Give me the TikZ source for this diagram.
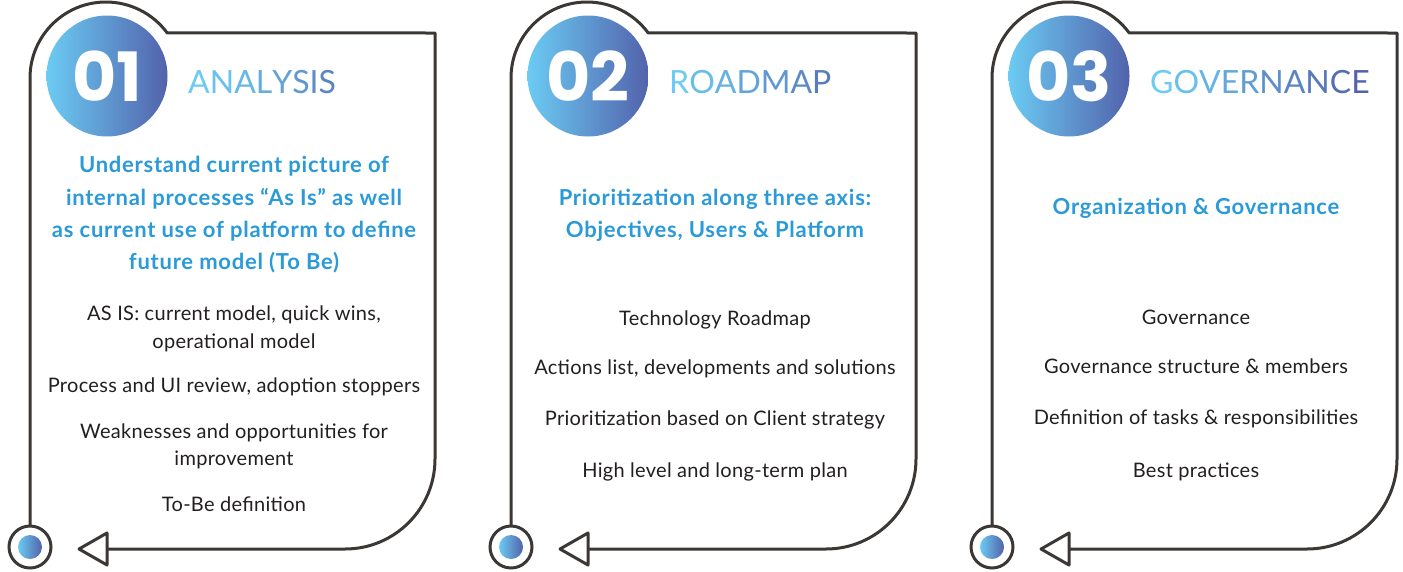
\documentclass[tikz,border=0pt]{standalone}
\usepackage{fontspec}
\setmainfont{Lato}
\newfontfamily\numfont{Poppins}
\newfontfamily\bluefont{Lato}[LetterSpace=3.4]
\newfontfamily\bodyfont{Lato}[LetterSpace=1.5]
\newfontfamily\titlefont{Lato}[LetterSpace=1]
\definecolor{outl}{HTML}{3B3735}
\definecolor{bluet}{HTML}{2A9AD8}
\definecolor{bodyt}{HTML}{231F20}
\definecolor{gA}{HTML}{6BCBF3}
\definecolor{gB}{HTML}{5262AB}
\newcommand\gl[2]{\textcolor{gB!#1!gA}{#2}}
\newcommand\cardshape[3]{%
  \draw[frame] (30,525) -- (30,78) arc[start angle=180, end angle=323.6, radius=76]
     -- (435,33) -- (435,459) arc[start angle=0, end angle=90, radius=90] -- (107,549);
  \draw[frame] (107,533) -- (79,549) -- (107,565) -- cycle;
  \node[smallring] (#1ring) at (30,547) {};
  \node[gdot] (#1dot) at (30,547) {};
  \node[bigdisc] (#1num) at (107,76) {#2};
  \node[titletext] (#1title) at (188,93) {#3};
}
\begin{document}
\begin{tikzpicture}[x=1pt,y=-1pt,
  frame/.style={draw=outl, line width=3pt, line join=round},
  smallring/.style={circle, draw=outl, line width=3pt, minimum size=42pt, inner sep=0pt, fill=white},
  gdot/.style={circle, minimum size=24pt, inner sep=0pt, left color=gA, right color=gB},
  bigdisc/.style={circle, minimum size=121pt, inner sep=0pt, left color=gA, right color=gB,
     text=white, font=\numfont\bfseries\fontsize{68}{68}\selectfont},
  titletext/.style={anchor=base west, inner sep=0pt, font=\titlefont\fontsize{32}{32}\selectfont},
  bluetxt/.style={anchor=base, inner sep=0pt, text=bluet, font=\bluefont\bfseries\fontsize{22}{26}\selectfont},
  bodytxt/.style={anchor=base, inner sep=0pt, text=bodyt, font=\bodyfont\fontsize{20}{24}\selectfont}]
\useasboundingbox[fill=white] (0,0) rectangle (1403,571);

% ---------- card 1 ----------
\cardshape{a}{01}{\gl{0}{A}\gl{10}{N}\gl{19}{A}\gl{29}{L}\gl{39}{Y}\gl{48}{S}\gl{58}{I}\gl{68}{S}}
\node[bluetxt] (a1) at (234,172) {Understand current picture of};
\node[bluetxt] (a2) at (234,205) {internal processes “As Is” as well};
\node[bluetxt] (a3) at (234,237) {as current use of platform to define};
\node[bluetxt] (a4) at (234,269) {future model (To Be)};
\node[bodytxt] (a5) at (234,320) {AS IS: current model, quick wins,};
\node[bodytxt] (a6) at (234,348) {operational model};
\node[bodytxt] (a7) at (234,392) {Process and UI review, adoption stoppers};
\node[bodytxt] (a8) at (234,438) {Weaknesses and opportunities for};
\node[bodytxt] (a9) at (234,465) {improvement};
\node[bodytxt] (a10) at (234,511) {To-Be definition};

% ---------- card 2 ----------
\begin{scope}[xshift=481pt]
\cardshape{b}{02}{\gl{0}{R}\gl{12}{O}\gl{25}{A}\gl{37}{D}\gl{49}{M}\gl{62}{A}\gl{74}{P}}
\node[bluetxt] (b1) at (234,205) {Prioritization along three axis:};
\node[bluetxt] (b2) at (234,237) {Objectives, Users \& Platform};
\node[bodytxt] (b3) at (234,325) {Technology Roadmap};
\node[bodytxt] (b4) at (234,374) {Actions list, developments and solutions};
\node[bodytxt] (b5) at (234,425) {Prioritization based on Client strategy};
\node[bodytxt] (b6) at (234,477) {High level and long-term plan};
\end{scope}

% ---------- card 3 ----------
\begin{scope}[xshift=962pt]
\cardshape{c}{03}{\gl{0}{G}\gl{11}{O}\gl{22}{V}\gl{33}{E}\gl{44}{R}\gl{56}{N}\gl{67}{A}\gl{78}{N}\gl{89}{C}\gl{100}{E}}
\node[bluetxt] (c1) at (234,214) {Organization \& Governance};
\node[bodytxt] (c2) at (234,324) {Governance};
\node[bodytxt] (c3) at (234,373) {Governance structure \& members};
\node[bodytxt] (c4) at (234,424) {Definition of tasks \& responsibilities};
\node[bodytxt] (c5) at (234,477) {Best practices};
\end{scope}
\end{tikzpicture}
\end{document}
